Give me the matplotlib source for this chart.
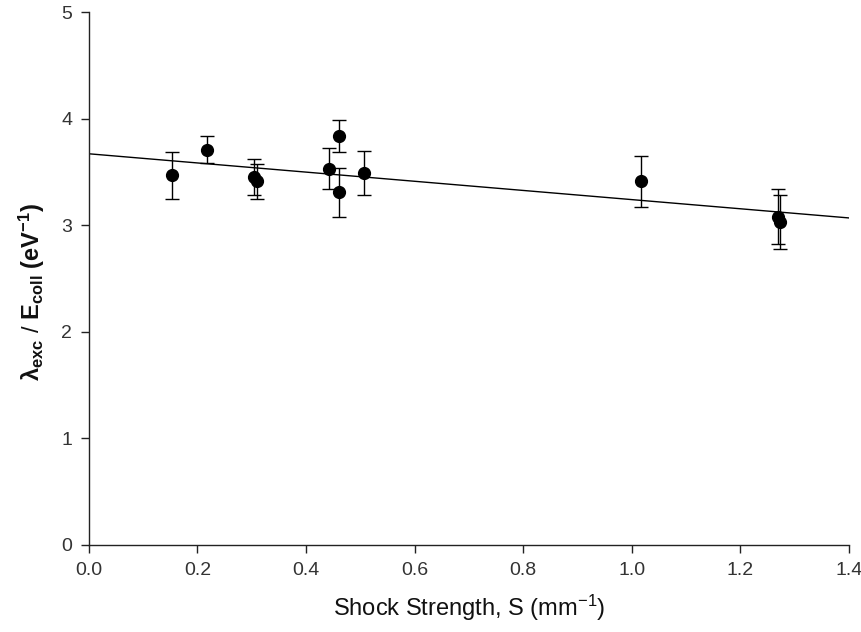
import matplotlib
matplotlib.use("Agg")
import matplotlib.pyplot as plt
import numpy as np

plt.rcParams['font.family'] = ['Liberation Sans', 'DejaVu Sans']
plt.rcParams['mathtext.fontset'] = 'custom'
plt.rcParams['mathtext.rm'] = 'Liberation Sans'
plt.rcParams['mathtext.it'] = 'Liberation Sans:italic'
plt.rcParams['mathtext.bf'] = 'Liberation Sans:bold'

# data
shock_strength = [0.153, 0.217, 0.305, 0.310, 0.443, 0.461, 0.461, 0.506, 1.016, 1.270, 1.272]
lambda_ratio = [3.47, 3.71, 3.45, 3.41, 3.53, 3.84, 3.31, 3.49, 3.41, 3.08, 3.03]
errors = [0.22, 0.13, 0.17, 0.16, 0.19, 0.15, 0.23, 0.21, 0.235, 0.255, 0.255]
fit_intercept = 3.67
fit_slope = -0.43
x_ticks = [0.0, 0.2, 0.4, 0.6, 0.8, 1.0, 1.2, 1.4]
y_ticks = [0, 1, 2, 3, 4, 5]

fig = plt.figure(figsize=(8.62, 6.32), dpi=100)
ax = fig.add_axes([0.103, 0.1377, 0.882, 0.8433])

xf = np.array([0.0, 1.4])
ax.plot(xf, fit_intercept + fit_slope * xf, color='black', lw=1.0, zorder=2)

ax.errorbar(shock_strength, lambda_ratio, yerr=errors, fmt='o', color='black',
            ms=8.5, ecolor='black', elinewidth=1.0, capsize=5, capthick=1.0, zorder=3)

ax.set_xlim(0, 1.4)
ax.set_ylim(0, 5)
ax.set_xticks(x_ticks)
ax.set_xticklabels([f"{t:.1f}" for t in x_ticks])
ax.set_yticks(y_ticks)
ax.set_yticklabels([str(t) for t in y_ticks])
ax.spines['top'].set_visible(False)
ax.spines['right'].set_visible(False)
for s in ['left', 'bottom']:
    ax.spines[s].set_linewidth(1.0)
    ax.spines[s].set_color('#222222')
ax.tick_params(direction='out', length=6, width=1.0, labelsize=14, colors='#222222', pad=6)
ax.tick_params(axis='both', labelcolor='#333333')

ax.set_xlabel('Shock Strength, S (mm$^{-1}$)', fontsize=17, color='#111111', labelpad=10)
ax.set_ylabel(r'$\mathbf{\lambda_{exc}}$ / $\mathbf{E_{coll}}$ $\mathbf{(eV^{-1})}$', fontsize=17,
              color='#111111')
ax.yaxis.set_label_coords(-0.055, 0.475)

fig.savefig('out.png', dpi=100)
